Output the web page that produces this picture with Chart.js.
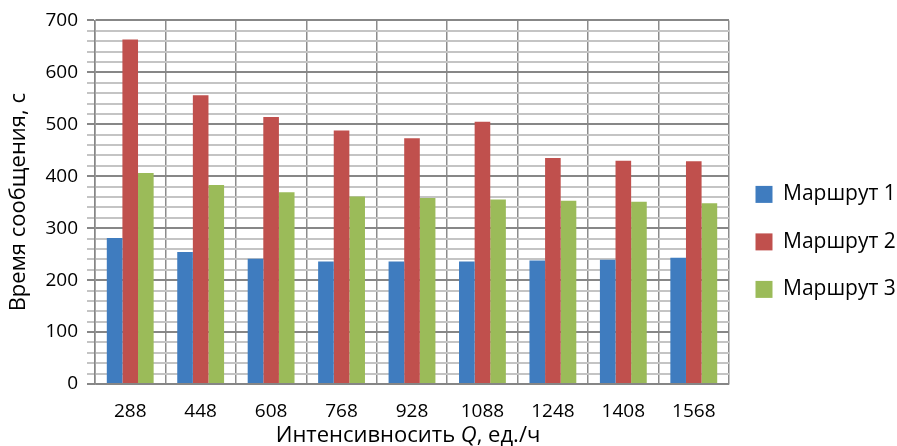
<!DOCTYPE html>
<html>
<head>
<meta charset="utf-8">
<script src="https://cdn.jsdelivr.net/npm/chart.js@4/dist/chart.umd.min.js"></script>
<style>
  html, body { margin: 0; padding: 0; background: #fff; }
  #wrap { width: 897px; height: 446px; }
</style>
</head>
<body>
<div id="wrap"><canvas id="chart"></canvas></div>
<script>
const categories = ['288', '448', '608', '768', '928', '1088', '1248', '1408', '1568'];
const route1 = [281, 254, 241, 236, 236, 236, 238, 239, 243];
const route2 = [663, 556, 514, 488, 473, 505, 435, 430, 429];
const route3 = [406, 383, 369, 361, 358, 355, 353, 351, 348];
const seriesNames = ['Маршрут 1', 'Маршрут 2', 'Маршрут 3'];
const yTicksMax = 700;

const FONT = '"Open Sans", "Noto Sans", sans-serif';
const colors = ['#3f7cbf', '#c0504d', '#9bbb59'];

// x axis title with italic Q, drawn in the space kept under the axis
const xTitleParts = [['Интенсивносить ', 'normal'], ['Q', 'italic'], [', ед./ч', 'normal']];
const xTitleSize = 22;

const xTitlePlugin = {
  id: 'xTitle',
  afterDraw(chart) {
    const s = chart.scales.x;
    const ctx = chart.ctx;
    ctx.save();
    ctx.fillStyle = '#000';
    ctx.textBaseline = 'middle';
    let total = 0;
    xTitleParts.forEach(([t, st]) => {
      ctx.font = `${st} ${xTitleSize}px ${FONT}`;
      total += ctx.measureText(t).width;
    });
    let x = (chart.chartArea.left + chart.chartArea.right) / 2 - 4 - total / 2;
    const y = s.bottom - 10;
    xTitleParts.forEach(([t, st]) => {
      ctx.font = `${st} ${xTitleSize}px ${FONT}`;
      ctx.fillText(t, x, y);
      x += ctx.measureText(t).width;
    });
    ctx.restore();
  }
};

const datasets = [route1, route2, route3].map((d, i) => ({
  label: seriesNames[i],
  data: d,
  backgroundColor: colors[i],
  borderWidth: 0,
  barPercentage: 1,
  categoryPercentage: 0.665
}));

const isMajor = c => c.tick && c.tick.value % 100 === 0;

new Chart(document.getElementById('chart'), {
  type: 'bar',
  data: { labels: categories, datasets },
  plugins: [xTitlePlugin],
  options: {
    responsive: true,
    maintainAspectRatio: false,
    animation: false,
    layout: { padding: { top: 8, right: 0, left: 0, bottom: 0 } },
    plugins: {
      tooltip: { enabled: false },
      legend: {
        position: 'right',
        maxWidth: 168,
        title: { display: true, text: ' ', padding: 6.5, font: { size: 14 } },
        labels: {
          boxWidth: 17,
          boxHeight: 17,
          padding: 26.5,
          color: '#000',
          font: { family: FONT, size: 21 }
        }
      }
    },
    scales: {
      x: {
        afterFit: s => { s.height = 62; },
        grid: {
          offset: true,
          color: '#8c8c8c',
          lineWidth: 1.5,
          drawTicks: false
        },
        border: { color: '#868686', width: 1.5 },
        ticks: {
          color: '#000',
          padding: 16,
          font: { family: FONT, size: 19 }
        }
      },
      y: {
        min: 0,
        max: yTicksMax,
        afterFit: s => { s.width = 95; },
        grid: {
          color: c => isMajor(c) ? '#878787' : '#c4c4c4',
          lineWidth: c => isMajor(c) ? 2 : 2
        },
        border: { color: '#868686', width: 1.5 },
        ticks: {
          stepSize: 20,
          maxTicksLimit: 50,
          autoSkip: false,
          color: '#000',
          padding: 9,
          font: { family: FONT, size: 19 },
          callback: v => (v % 100 === 0 ? v : '')
        },
        title: {
          display: true,
          text: 'Время сообщения, с',
          color: '#000',
          padding: { top: 6, bottom: 0 },
          font: { family: FONT, size: 22 }
        }
      }
    }
  }
});
</script>
</body>
</html>
